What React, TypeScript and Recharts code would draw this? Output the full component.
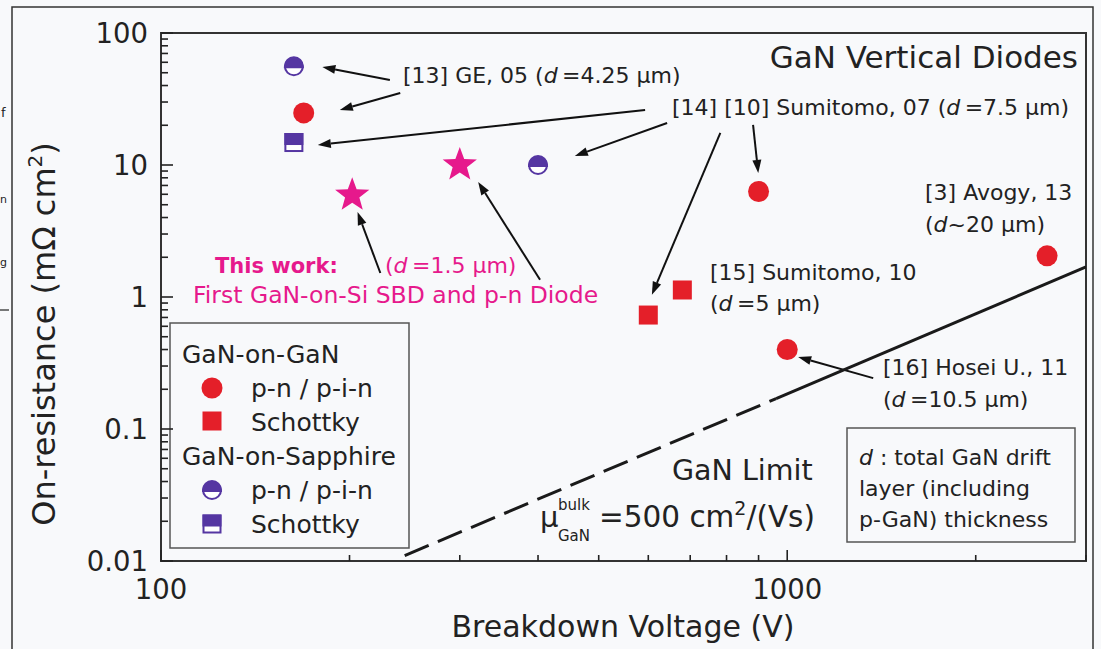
import { ScatterChart, Scatter, XAxis, YAxis, ReferenceArea, ReferenceLine } from "recharts";

// breakdown voltage (V) vs specific on-resistance (mOhm cm2)
const ganOnGanPn = [
  { v: 169, r: 24.8 },
  { v: 900, r: 6.3 },
  { v: 1000, r: 0.4 },
  { v: 2600, r: 2.05 },
];
const ganOnGanSchottky = [
  { v: 600, r: 0.73 },
  { v: 680, r: 1.13 },
];
const sapphirePn = [
  { v: 163, r: 56 },
  { v: 400, r: 10 },
];
const sapphireSchottky = [{ v: 163, r: 14.8 }];
const thisWork = [
  { v: 202, r: 5.9 },
  { v: 300, r: 10 },
];
const limitDashed = [
  { v: 245, r: 0.011 },
  { v: 960, r: 0.17 },
];
const limitSolid = [
  { v: 960, r: 0.17 },
  { v: 3000, r: 1.69 },
];

// annotation arrows, from label to point (data coords)
const arrows = [
  { from: [232, 44], to: [181, 55.3] },
  { from: [241, 35.1], to: [193, 26.1] },
  { from: [593, 26.1], to: [178, 14.2] },
  { from: [643, 20.8], to: [458, 11.7] },
  { from: [882, 20.1], to: [899, 8.7] },
  { from: [782, 17.5], to: [608, 1.04] },
  { from: [224, 1.52], to: [206, 4.4] },
  { from: [403, 1.35], to: [321, 7.43] },
  { from: [1372, 0.243], to: [1041, 0.351] },
];

const xTicks = [100, 200, 300, 400, 500, 600, 700, 800, 900, 1000, 2000, 3000];
const xLabels = [100, 1000];
const yTicks = [
  0.01, 0.02, 0.03, 0.04, 0.05, 0.06, 0.07, 0.08, 0.09,
  0.1, 0.2, 0.3, 0.4, 0.5, 0.6, 0.7, 0.8, 0.9,
  1, 2, 3, 4, 5, 6, 7, 8, 9,
  10, 20, 30, 40, 50, 60, 70, 80, 90,
  100,
];
const yLabels = [0.01, 0.1, 1, 10, 100];

const RED = "#e41f29";
const PURPLE = "#5536a2";
const MAGENTA = "#e6198c";
const INK = "#222";

function YTick(props: any) {
  const { x, y, payload } = props;
  const major = yLabels.includes(payload.value);
  return (
    <g>
      <line x1={x} x2={x + (major ? 12 : 7)} y1={y} y2={y} stroke={INK} strokeWidth={1.6} />
      {major && (
        <text x={x - 13} y={y + 10} textAnchor="end" fontSize={27.5} fill={INK}>
          {payload.value}
        </text>
      )}
    </g>
  );
}

function XTick(props: any) {
  const { x, y, payload } = props;
  const major = xLabels.includes(payload.value);
  return (
    <g>
      <line x1={x} x2={x} y1={y} y2={y - (major ? 11 : 6)} stroke={INK} strokeWidth={1.6} />
      {major && (
        <text x={x} y={y + 38} textAnchor="middle" fontSize={27.5} fill={INK}>
          {payload.value}
        </text>
      )}
    </g>
  );
}

function RedCircle({ cx, cy }: any) {
  return <circle cx={cx} cy={cy} r={10.5} fill={RED} />;
}

function RedSquare({ cx, cy }: any) {
  return <rect x={cx - 9.5} y={cy - 9.5} width={19} height={19} fill={RED} />;
}

function HalfCircle({ cx, cy }: any) {
  const r = 9;
  return (
    <g>
      <circle cx={cx} cy={cy} r={r} fill="#fff" stroke={PURPLE} strokeWidth={2} />
      <path d={`M ${cx - r} ${cy + 1} A ${r} ${r} 0 0 1 ${cx + r} ${cy + 1} Z`} fill={PURPLE} stroke={PURPLE} strokeWidth={2} />
    </g>
  );
}

function HalfSquare({ cx, cy }: any) {
  return (
    <g>
      <rect x={cx - 8.5} y={cy - 8.5} width={17} height={17} fill="#fff" stroke={PURPLE} strokeWidth={2} />
      <rect x={cx - 8.5} y={cy - 8.5} width={17} height={10} fill={PURPLE} stroke={PURPLE} strokeWidth={2} />
    </g>
  );
}

function Star({ cx, cy }: any) {
  const pts: string[] = [];
  for (let i = 0; i < 10; i++) {
    const rad = i % 2 === 0 ? 18 : 7.5;
    const a = (-90 + i * 36) * (Math.PI / 180);
    pts.push(`${cx + rad * Math.cos(a)},${cy + rad * Math.sin(a)}`);
  }
  return <polygon points={pts.join(" ")} fill={MAGENTA} />;
}

function Arrow(props: any) {
  const { x1, y1, x2, y2 } = props;
  const ang = Math.atan2(y2 - y1, x2 - x1);
  const len = 13;
  const half = 4.5;
  const bx = x2 - len * Math.cos(ang);
  const by = y2 - len * Math.sin(ang);
  const px = -Math.sin(ang) * half;
  const py = Math.cos(ang) * half;
  return (
    <g>
      <line x1={x1} y1={y1} x2={bx} y2={by} stroke="#111" strokeWidth={2} />
      <polygon points={`${x2},${y2} ${bx + px},${by + py} ${bx - px},${by - py}`} fill="#111" />
    </g>
  );
}

const noDot = () => <g />;

function Ann({ x, y, children, size = 22, fill = INK, anchor = "start", weight = "normal" }: any) {
  return (
    <text x={x} y={y} fontSize={size} fill={fill} textAnchor={anchor} fontWeight={weight}>
      {children}
    </text>
  );
}

const D = () => <tspan fontStyle="italic">d</tspan>;

export default function App() {
  return (
    <div
      style={{
        position: "absolute",
        left: 0,
        top: 0,
        width: 1101,
        height: 649,
        background: "#f8f9fb",
        fontFamily: "'DejaVu Sans', sans-serif",
        overflow: "hidden",
      }}
    >
      <ScatterChart width={1101} height={649} margin={{ top: 33, right: 15, bottom: 28, left: 0 }}>
        <XAxis
          type="number"
          dataKey="v"
          scale="log"
          domain={[100, 3000]}
          ticks={xTicks}
          interval={0}
          allowDataOverflow
          axisLine={false}
          tickLine={false}
          tickSize={0}
          tickMargin={0}
          height={60}
          tick={<XTick />}
        />
        <YAxis
          type="number"
          dataKey="r"
          scale="log"
          domain={[0.01, 100]}
          ticks={yTicks}
          interval={0}
          allowDataOverflow
          axisLine={false}
          tickLine={false}
          tickSize={0}
          tickMargin={0}
          width={161}
          tick={<YTick />}
        />

        <Scatter
          data={limitDashed}
          isAnimationActive={false}
          shape={noDot}
          line={{ stroke: "#1a1a1a", strokeWidth: 3, strokeDasharray: "26 10" }}
        />
        <Scatter
          data={limitSolid}
          isAnimationActive={false}
          shape={noDot}
          line={{ stroke: "#1a1a1a", strokeWidth: 3 }}
        />

        {arrows.map((a, i) => (
          <ReferenceLine
            key={i}
            segment={[
              { x: a.from[0], y: a.from[1] },
              { x: a.to[0], y: a.to[1] },
            ]}
            shape={(p: any) => <Arrow {...p} />}
          />
        ))}

        <Scatter data={ganOnGanPn} isAnimationActive={false} shape={<RedCircle />} />
        <Scatter data={ganOnGanSchottky} isAnimationActive={false} shape={<RedSquare />} />
        <Scatter data={sapphirePn} isAnimationActive={false} shape={<HalfCircle />} />
        <Scatter data={sapphireSchottky} isAnimationActive={false} shape={<HalfSquare />} />
        <Scatter data={thisWork} isAnimationActive={false} shape={<Star />} />

        <ReferenceArea x1={100} x2={3000} y1={0.01} y2={100} fill="none" stroke="#333" strokeWidth={2} />

        {/* outer frame + scraps of the neighbouring page */}
        <rect x={12} y={7} width={1081} height={680} fill="none" stroke="#333" strokeWidth={1.5} />
        <text x={1} y={117} fontSize={13} fill={INK}>f</text>
        <text x={0} y={203} fontSize={11} fill={INK}>n</text>
        <text x={0} y={266} fontSize={11} fill={INK}>g</text>
        <line x1={0} x2={9} y1={310} y2={310} stroke={INK} strokeWidth={1.2} />

        {/* axis titles */}
        <text x={623} y={637} fontSize={30} fill={INK} textAnchor="middle">
          Breakdown Voltage (V)
        </text>
        <text x={55} y={334} fontSize={32} fill={INK} textAnchor="middle" transform="rotate(-90 55 334)">
          On-resistance (mΩ cm
          <tspan fontSize={20} dy={-13}>2</tspan>
          <tspan dy={13}>)</tspan>
        </text>

        {/* annotations */}
        <Ann x={1078} y={68} size={31} anchor="end">GaN Vertical Diodes</Ann>
        <Ann x={403} y={83}>
          [13] GE, 05 (<D />{"\u2009"}=4.25 μm)
        </Ann>
        <Ann x={672} y={115}>
          [14] [10] Sumitomo, 07 (<D />{"\u2009"}=7.5 μm)
        </Ann>
        <Ann x={925} y={200}>[3] Avogy, 13</Ann>
        <Ann x={925} y={232}>
          (<D />~20 μm)
        </Ann>
        <Ann x={710} y={280}>[15] Sumitomo, 10</Ann>
        <Ann x={710} y={311}>
          (<D />{"\u2009"}=5 μm)
        </Ann>
        <Ann x={883} y={375}>[16] Hosei U., 11</Ann>
        <Ann x={883} y={407}>
          (<D />{"\u2009"}=10.5 μm)
        </Ann>

        <Ann x={215} y={273} size={21} fill={MAGENTA} weight="bold">This work:</Ann>
        <Ann x={385} y={273} fill={MAGENTA}>
          (<D />{"\u2009"}=1.5 μm)
        </Ann>
        <Ann x={193} y={303} size={23.5} fill={MAGENTA}>First GaN-on-Si SBD and p-n Diode</Ann>

        <Ann x={672} y={480} size={28.5}>GaN Limit</Ann>
        <Ann x={540} y={527} size={29}>μ</Ann>
        <Ann x={558} y={510} size={15}>bulk</Ann>
        <Ann x={558} y={541} size={15}>GaN</Ann>
        <Ann x={599} y={527} size={29.5}>
          =500 cm<tspan fontSize={19} dy={-12}>2</tspan>
          <tspan dy={12}>/(Vs)</tspan>
        </Ann>

        <rect x={847} y={428} width={228} height={114} fill="none" stroke="#555" strokeWidth={1.5} />
        <Ann x={859} y={465} size={22}>
          <D /> : total GaN drift
        </Ann>
        <Ann x={859} y={496} size={22}>layer (including</Ann>
        <Ann x={859} y={527} size={22}>p-GaN) thickness</Ann>

        {/* legend */}
        <rect x={170} y={323} width={239} height={225} fill="none" stroke="#555" strokeWidth={1.5} />
        <Ann x={182} y={363} size={25}>GaN-on-GaN</Ann>
        <RedCircle cx={212} cy={388} />
        <Ann x={251} y={397} size={25}>p-n / p-i-n</Ann>
        <RedSquare cx={212} cy={421} />
        <Ann x={251} y={431} size={25}>Schottky</Ann>
        <Ann x={182} y={465} size={25}>GaN-on-Sapphire</Ann>
        <HalfCircle cx={212} cy={490} />
        <Ann x={251} y={499} size={25}>p-n / p-i-n</Ann>
        <HalfSquare cx={212} cy={524} />
        <Ann x={251} y={533} size={25}>Schottky</Ann>
      </ScatterChart>
    </div>
  );
}
